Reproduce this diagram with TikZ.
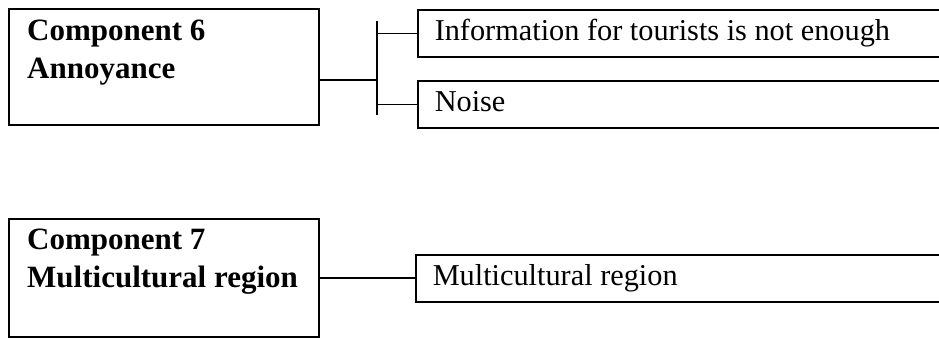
\documentclass[tikz,border=0pt]{standalone}
\usepackage{fontspec}
\setmainfont{Liberation Serif}
\begin{document}
\begin{tikzpicture}[x=1pt,y=-1pt,
  line/.style={line width=1.5pt, black},
  compbox/.style={draw, line width=1.5pt, minimum width=310pt, minimum height=116pt, inner sep=0pt},
  comptext/.style={anchor=base west, inner sep=0pt, font=\fontsize{31}{36}\selectfont\bfseries},
  leaf/.style={draw, line width=1.5pt, anchor=north west, minimum height=47pt,
    inner xsep=17pt, inner ysep=0pt, text height=21pt, text depth=7pt, align=flush left,
    font=\fontsize{30.3}{36}\selectfont}]
  \useasboundingbox (0,0) rectangle (939,338);
  \clip (0,0) rectangle (939,338);

  % Component 6 with its two items
  \node[compbox] (c6) at (164,67) {};
  \node[comptext] (c6a) at (27,40) {Component 6};
  \node[comptext] (c6b) at (27,78) {Annoyance};
  \node[leaf, text width=499pt] (r1) at (417,9) {Information for tourists is not enough};
  \node[leaf, text width=499pt] (r2) at (417,80) {Noise};
  \coordinate (j6) at (377,80);
  \coordinate (j6t) at (377,21);
  \coordinate (j6b) at (377,115);
  \draw[line] (c6.east |- j6) -- (j6);
  \draw[line] (j6t) -- (j6b);
  \draw[line] (j6t |- r1.west) -- (r1.west);
  \draw[line] (j6b |- r2.west) -- (r2.west);

  % Component 7 with its single item
  \node[compbox, minimum height=118pt] (c7) at (164,278) {};
  \node[comptext] (c7a) at (27,249) {Component 7};
  \node[comptext] (c7b) at (27,287) {Multicultural region};
  \node[leaf, text width=501pt] (r3) at (415,254) {Multicultural region};
  \draw[line] (c7.east) -- (c7.east -| r3.west);
\end{tikzpicture}
\end{document}
